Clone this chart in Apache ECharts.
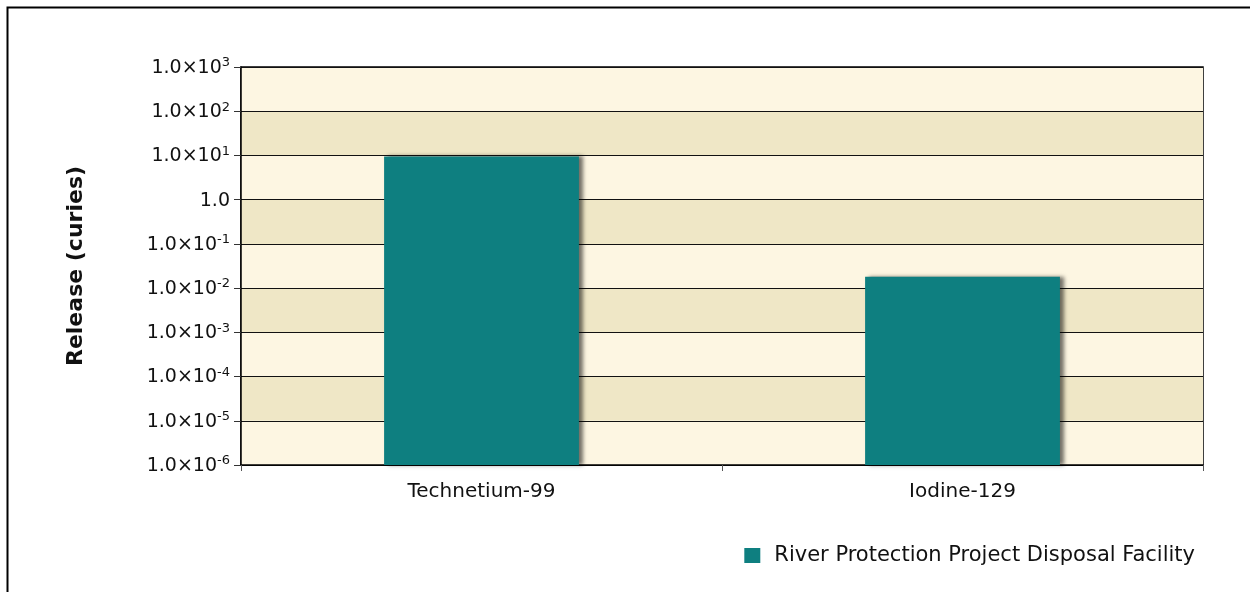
<!DOCTYPE html>
<html>
<head>
<meta charset="utf-8">
<script src="https://cdn.jsdelivr.net/npm/echarts@6/dist/echarts.min.js"></script>
<style>
html,body{margin:0;padding:0;background:#fff;}
#c{width:1250px;height:592px;}
</style>
</head>
<body>
<div id="c"></div>
<script>
const categories = ['Technetium-99', 'Iodine-129'];
const seriesName = 'River Protection Project Disposal Facility';
const releaseValues = [9.5, 0.018];
const axisMin = 1e-6;
const axisMax = 1e3;
const tickExponents = [-6, -5, -4, -3, -2, -1, 0, 1, 2, 3];
const baseValues = categories.map(function () { return axisMin; });

const FONT = 'DejaVu Sans, Liberation Sans, Arial, sans-serif';
const chart = echarts.init(document.getElementById('c'), null, {renderer: 'canvas'});
const option = {
  animation: false,
  backgroundColor: '#ffffff',
  graphic: [{
    type: 'rect',
    shape: {x: 7.5, y: 7.5, width: 1300, height: 700},
    style: {fill: 'none', stroke: '#000', lineWidth: 2},
    z: 100
  }],
  grid: {
    left: 241, right: 47, top: 67, bottom: 127,
    show: true, borderColor: '#000', borderWidth: 1.5, backgroundColor: 'transparent'
  },
  legend: {
    data: [seriesName],
    right: 50, top: 540,
    itemWidth: 16, itemHeight: 15, itemGap: 12,
    icon: 'rect',
    textStyle: {fontFamily: FONT, fontSize: 21, color: '#111', padding: [0, 0, 0, 9]}
  },
  xAxis: {
    type: 'category',
    data: categories,
    axisLine: {lineStyle: {color: '#000', width: 1.5}},
    axisTick: {show: true, length: 6, lineStyle: {color: '#555'}},
    axisLabel: {fontFamily: FONT, fontSize: 20, color: '#111', margin: 17}
  },
  yAxis: {
    type: 'log',
    logBase: 10,
    min: axisMin,
    max: axisMax,
    name: 'Release (curies)',
    nameLocation: 'middle',
    nameGap: 154,
    nameTextStyle: {fontFamily: FONT, fontSize: 22, fontWeight: 'bold', color: '#111'},
    axisLine: {show: true, lineStyle: {color: '#000', width: 1.5}},
    axisTick: {show: true, length: 7, lineStyle: {color: '#333'}},
    splitLine: {show: true, lineStyle: {color: '#111', width: 1}},
    splitArea: {show: true, areaStyle: {color: ['#fdf6e2', '#efe7c6']}},
    axisLabel: {
      margin: 11,
      formatter: function (v) {
        const e = Math.round(Math.log10(v));
        if (tickExponents.indexOf(e) < 0) return '';
        if (e === 0) return '{b|1.0}';
        return '{b|1.0×10}{s|' + e + '}';
      },
      rich: {
        b: {fontFamily: FONT, fontSize: 19, color: '#111', verticalAlign: 'bottom', lineHeight: 21},
        s: {fontFamily: FONT, fontSize: 13, color: '#111', verticalAlign: 'top', lineHeight: 21, padding: [0, 0, 10, 0]}
      }
    }
  },
  series: [{
    name: '_base',
    type: 'bar',
    stack: 'rel',
    data: baseValues,
    silent: true,
    barWidth: '40.5%',
    itemStyle: {color: 'rgba(0,0,0,0)'}
  }, {
    name: seriesName,
    type: 'bar',
    stack: 'rel',
    data: releaseValues,
    barWidth: '40.5%',
    itemStyle: {
      color: '#0e7f80',
      shadowColor: 'rgba(0,0,0,0.55)',
      shadowBlur: 4,
      shadowOffsetX: 4,
      shadowOffsetY: 0
    }
  }]
};
chart.setOption(option);
</script>
</body>
</html>
